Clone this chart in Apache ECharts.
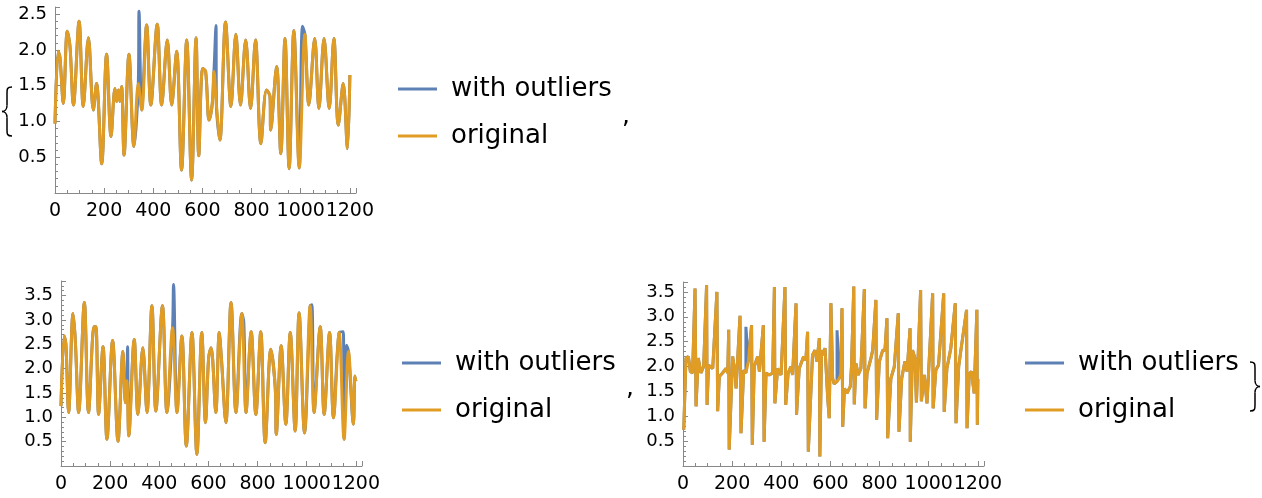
<!DOCTYPE html>
<html>
<head>
<meta charset="utf-8">
<script src="https://cdn.jsdelivr.net/npm/echarts@6/dist/echarts.min.js"></script>
<style>
  html, body { margin: 0; padding: 0; background: #fff; }
  #chart { width: 1262px; height: 498px; }
</style>
</head>
<body>
<div id="chart"></div>
<script>
// turning points of each curve as [x, y]
var topOriginal = [[0,0.97],[13,1.98],[20,1.9],[34,1.25],[50,2.26],[61,2.05],[75,1.23],[98,2.40],[115,1.21],[136,2.17],
  [156,1.16],[169,1.53],[190,0.41],[210,1.94],[228,0.79],[244,1.46],[251,1.28],[258,1.44],[264,1.28],[271,1.49],
  [281,0.53],[301,1.94],[321,0.65],[339,1.53],[353,1.16],[373,2.35],[390,1.23],[416,2.36],[434,1.23],[457,2.14],
  [475,1.23],[495,1.98],[515,0.32],[536,2.14],[556,0.18],[574,2.17],[585,0.52],[601,1.74],[613,1.70],[627,1.02],
  [640,1.25],[647,1.70],[657,1.23],[671,0.74],[694,2.39],[716,1.21],[736,2.22],[755,1.23],[776,2.14],[796,1.18],
  [816,2.14],[838,0.69],[861,1.44],[875,1.35],[878,0.88],[902,1.77],[919,0.55],[936,2.16],[953,0.34],[972,2.27],
  [994,0.35],[1017,2.22],[1033,1.23],[1057,2.16],[1074,1.18],[1095,2.16],[1116,1.18],[1135,2.16],[1153,0.95],
  [1173,1.53],[1190,0.62],[1200,1.65]];
var topSpikes = [[342,2.54],[655,2.34],[1007,2.33]];

var leftOriginal = [[0,1.23],[13,2.67],[20,2.5],[31,1.10],[49,3.13],[58,2.6],[72,1.10],[95,3.36],[112,1.10],[135,2.86],
  [142,2.86],[153,1.06],[171,2.45],[187,0.55],[210,2.58],[232,0.51],[252,2.35],[262,1.30],[268,1.75],[276,0.62],
  [298,2.60],[313,1.06],[333,2.43],[350,1.10],[370,3.29],[386,1.13],[413,3.29],[431,1.10],[454,2.84],[472,1.10],
  [492,2.67],[510,0.41],[533,2.74],[553,0.24],[573,2.74],[588,0.89],[601,2.23],[611,2.43],[630,1.10],[644,2.74],
  [653,2.2],[671,0.89],[692,3.36],[712,1.10],[736,3.13],[753,1.10],[774,2.76],[793,1.06],[813,2.76],[831,0.48],
  [854,2.40],[872,1.6],[876,0.65],[896,2.47],[915,0.86],[933,2.74],[953,0.72],[969,3.15],[991,0.68],[1014,3.29],
  [1030,1.10],[1055,2.86],[1071,1.06],[1093,2.74],[1109,0.99],[1132,2.74],[1152,0.55],[1170,2.35],[1190,0.86],
  [1196,1.85],[1200,1.74]];
var leftSpikes = [[271,2.45],[458,3.73],[744,2.95],[1021,3.31],[1149,2.76],[1162,2.48]];

var rightOriginal = [[3,0.73],[12,2.17],[22,2.20],[30,1.90],[39,1.87],[49,3.57],[53,1.20],[62,2.17],[73,1.87],[84,2.0],
  [96,3.64],[98,1.23],[104,2.03],[121,1.96],[138,3.5],[141,1.10],[148,1.80],[161,1.87],[175,1.96],[182,1.87],
  [186,2.74],[188,0.33],[202,2.20],[212,1.87],[216,1.56],[232,3.02],[236,0.66],[247,1.93],[256,1.87],[266,2.10],
  [279,2.83],[282,0.43],[290,2.0],[304,2.2],[311,1.9],[327,2.83],[330,0.49],[338,1.87],[351,1.83],[365,1.87],
  [372,3.6],[374,1.26],[385,1.96],[399,1.83],[415,3.6],[418,1.23],[428,1.87],[439,2.0],[446,1.83],[460,3.27],
  [462,1.03],[473,1.96],[491,2.2],[500,2.13],[507,2.70],[510,0.29],[527,2.23],[537,2.33],[545,2.1],[555,2.57],
  [557,0.19],[564,2.33],[571,2.23],[578,2.37],[589,1.36],[595,0.96],[602,3.27],[609,1.76],[615,1.65],[627,1.7],
  [636,1.76],[642,1.85],[647,3.17],[650,0.79],[657,1.56],[667,1.46],[681,1.6],[686,2.03],[695,3.61],[697,1.24],
  [704,2.06],[713,1.83],[724,1.96],[738,3.56],[741,1.16],[749,1.86],[765,2.17],[772,2.33],[785,3.34],[788,0.93],
  [799,2.1],[813,2.33],[822,2.33],[830,2.97],[833,0.56],[846,1.76],[860,2.0],[876,3.07],[879,0.69],[890,1.76],
  [903,2.1],[912,1.9],[924,2.77],[925,0.49],[934,2.33],[944,2.17],[950,1.28],[958,1.26],[967,3.54],[970,1.3],
  [982,1.83],[993,1.26],[1016,3.47],[1018,1.16],[1029,1.93],[1040,2.03],[1061,3.47],[1063,1.09],[1074,1.96],
  [1090,2.37],[1108,3.27],[1111,0.86],[1122,2.0],[1131,2.33],[1138,2.33],[1154,3.14],[1156,0.76],[1165,1.86],
  [1174,1.9],[1185,1.46],[1192,1.42],[1196,3.14],[1198,0.83],[1200,1.75]];
var rightSpikes = [[256,2.80],[627,2.73]];

var seriesNames = ['with outliers', 'original'];
var BLUE = '#5E81B5';
var ORANGE = '#E19C24';
var FONT = 'DejaVu Sans';

function withSpikes(base, spikes) {
  return base.concat(spikes).sort(function (a, b) { return a[0] - b[0]; });
}

function xAx(i) {
  return {
    type: 'value', gridIndex: i, min: 0, max: 1225, interval: 200,
    axisLine: { onZero: false, lineStyle: { color: '#888', width: 1 } },
    axisTick: { inside: true, length: 5, lineStyle: { color: '#888' } },
    minorTick: { show: true, splitNumber: 4, length: 3, lineStyle: { color: '#888' } },
    splitLine: { show: false },
    axisLabel: {
      showMaxLabel: false, color: '#000', fontSize: 19, fontFamily: FONT, margin: 9,
      formatter: function (v) { return String(v); }
    }
  };
}

function yAx(i, max) {
  return {
    type: 'value', gridIndex: i, min: 0, max: max, interval: 0.5,
    axisLine: { show: true, onZero: false, lineStyle: { color: '#888', width: 1 } },
    axisTick: { show: true, inside: true, length: 5, lineStyle: { color: '#888' } },
    minorTick: { show: true, splitNumber: 5, length: 3, lineStyle: { color: '#888' } },
    splitLine: { show: false },
    axisLabel: {
      showMinLabel: false, showMaxLabel: false, color: '#000', fontSize: 18, fontFamily: FONT, margin: 8,
      formatter: function (v) { return v.toFixed(1); }
    }
  };
}

function line(name, i, data, color, smooth) {
  return {
    name: name, type: 'line', xAxisIndex: i, yAxisIndex: i, data: data,
    color: color, showSymbol: false, smooth: smooth,
    lineStyle: { color: color, width: 3 }
  };
}

function legendAt(left, top) {
  return {
    orient: 'vertical', left: left, top: top, padding: 0, icon: 'rect', itemWidth: 39, itemHeight: 3, itemGap: 17,
    selectedMode: false, data: seriesNames,
    textStyle: { fontSize: 26, fontFamily: FONT, color: '#000', lineHeight: 30, padding: [0, 0, 0, 9] }
  };
}

// curly brace with its point at xTip and its stem at xStem
function brace(xTip, xStem, yTop, yBot) {
  var yMid = (yTop + yBot) / 2;
  var xEnd = 2 * xStem - xTip;
  var xHalf = (xStem + xTip) / 2;
  var st = { stroke: '#000', lineWidth: 1.5, fill: null };
  var c = function (x1, y1, a, b, p, q, x2, y2) {
    return { type: 'bezierCurve', shape: { x1: x1, y1: y1, cpx1: a, cpy1: b, cpx2: p, cpy2: q, x2: x2, y2: y2 }, style: st };
  };
  var l = function (x1, y1, x2, y2) {
    return { type: 'line', shape: { x1: x1, y1: y1, x2: x2, y2: y2 }, style: st };
  };
  return [
    c(xEnd, yTop, xStem, yTop, xStem, yTop + 2, xStem, yTop + 6),
    l(xStem, yTop + 6, xStem, yMid - 6),
    c(xStem, yMid - 6, xStem, yMid - 2, xHalf, yMid, xTip, yMid),
    c(xTip, yMid, xHalf, yMid, xStem, yMid + 2, xStem, yMid + 6),
    l(xStem, yMid + 6, xStem, yBot - 6),
    c(xStem, yBot - 6, xStem, yBot - 2, xStem, yBot, xEnd, yBot)
  ];
}

var chart = echarts.init(document.getElementById('chart'));
chart.setOption({
  animation: false,
  grid: [
    { left: 55, top: 7, width: 301, height: 186 },
    { left: 61, top: 281, width: 301, height: 185 },
    { left: 683, top: 282, width: 301, height: 184 }
  ],
  xAxis: [xAx(0), xAx(1), xAx(2)],
  yAxis: [yAx(0, 2.6), yAx(1, 3.8), yAx(2, 3.7)],
  legend: [legendAt(398, 74), legendAt(402, 348), legendAt(1025, 348)],
  series: [
    line(seriesNames[0], 0, withSpikes(topOriginal, topSpikes), BLUE, 0.35),
    line(seriesNames[1], 0, topOriginal, ORANGE, 0.35),
    line(seriesNames[0], 1, withSpikes(leftOriginal, leftSpikes), BLUE, 0.35),
    line(seriesNames[1], 1, leftOriginal, ORANGE, 0.35),
    line(seriesNames[0], 2, withSpikes(rightOriginal, rightSpikes), BLUE, false),
    line(seriesNames[1], 2, rightOriginal, ORANGE, false)
  ],
  graphic: brace(2, 7, 87, 136).concat(brace(1260, 1255, 362, 411)).concat([
    { type: 'text', left: 622, top: 104, style: { text: ',', fontSize: 25, fontFamily: FONT, fill: '#000' } },
    { type: 'text', left: 626, top: 376, style: { text: ',', fontSize: 25, fontFamily: FONT, fill: '#000' } }
  ])
});
</script>
</body>
</html>
